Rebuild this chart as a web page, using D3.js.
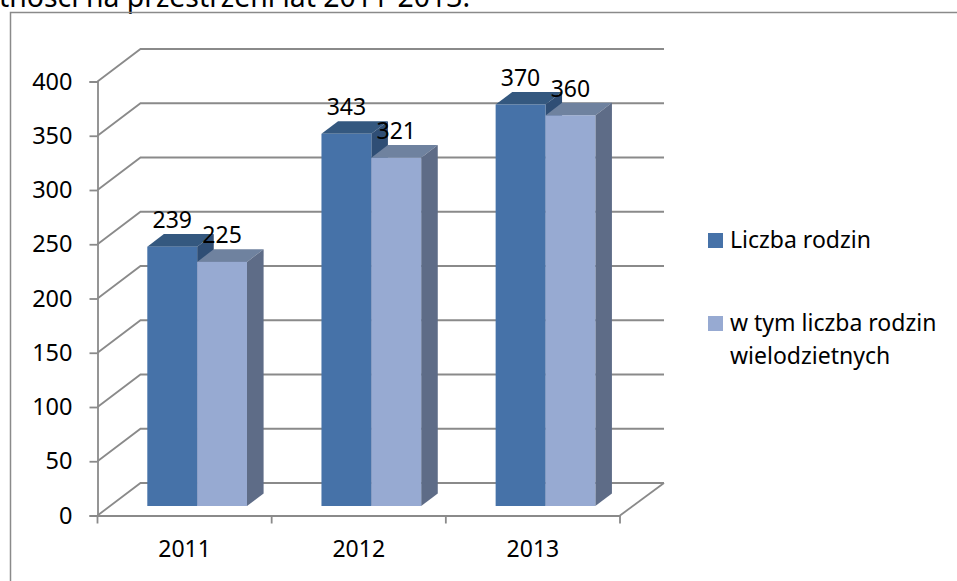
<!DOCTYPE html>
<html>
<head>
  <meta charset="utf-8">
  <script src="https://d3js.org/d3.v7.min.js"></script>
  <title>Liczba rodzin 2011-2013</title>
  <style>
    html, body { margin: 0; padding: 0; background: #fff; overflow: hidden; }
    text { font-family: "Noto Sans", sans-serif; fill: #000; }
  </style>
</head>
<body>
  <svg id="chart" width="957" height="581"></svg>
  <script>
    var years = ["2011", "2012", "2013"];
    var rodziny = [239, 343, 370];
    var wielodzietne = [225, 321, 360];
    var yTicks = [0, 50, 100, 150, 200, 250, 300, 350, 400];
    var legendFirst = "Liczba rodzin";
    var legendSecond = ["w tym liczba rodzin", "wielodzietnych"];
    var captionText = "tności na przestrzeni lat 2011-2013.";

    var frontColors = ["#4672a8", "#97aad2"];
    var topColors = ["#34587f", "#6f829f"];
    var sideColors = ["#2f4e75", "#5e6c87"];
    var axisColor = "#8a8a8a";

    var svg = d3.select("#chart");

    // front edge of the 3d floor
    var x0 = 97.5, x1 = 620;
    var y = d3.scaleLinear().domain([0, 400]).range([515.5, 81.5]);
    var x = d3.scaleBand().domain(years).range([x0, x1]);
    var inner = d3.scaleBand().domain([0, 1]).range([49.8, 149.5]);

    // depth offsets of the back wall and of the bars
    var wallDx = 43, wallDy = -32.5;
    var barDy = -9.5;
    var sideDx = 16.6, sideDy = -12.6;

    svg.append("text")
      .attr("x", -1).attr("y", 6.5)
      .style("font-size", "28.4px")
      .text(captionText);

    // chart frame, bottom and right run off the picture
    svg.append("path")
      .attr("d", "M10.5,600V12.5H960")
      .attr("fill", "none")
      .attr("stroke", axisColor)
      .attr("stroke-width", 1.5);

    var walls = svg.append("g")
      .attr("fill", "none")
      .attr("stroke", axisColor)
      .attr("stroke-width", 1.8);

    walls.selectAll(".grid")
      .data(yTicks)
      .enter()
      .append("path")
      .attr("class", "grid")
      .attr("d", function(d) {
        return d3.line()([
          [x0, y(d)],
          [x0 + wallDx, y(d) + wallDy],
          [x1 + wallDx + 1, y(d) + wallDy]
        ]);
      });

    // right edge of the floor
    walls.append("line")
      .attr("x1", x1).attr("y1", y(0))
      .attr("x2", x1 + wallDx + 1).attr("y2", y(0) + wallDy);

    // axes
    var gy = svg.append("g")
      .attr("transform", "translate(" + x0 + ",0)")
      .call(d3.axisLeft(y).tickValues(yTicks).tickSize(8).tickPadding(17));
    var gx = svg.append("g")
      .attr("transform", "translate(0," + y(0) + ")")
      .call(d3.axisBottom(x).tickSize(0).tickPadding(25));

    gx.selectAll(".xtick")
      .data(d3.range(years.length + 1))
      .enter()
      .append("line")
      .attr("class", "xtick")
      .attr("x1", function(d) { return x0 + d * x.step(); })
      .attr("x2", function(d) { return x0 + d * x.step(); })
      .attr("y1", 0).attr("y2", 8);

    svg.selectAll(".domain, .tick line, .xtick")
      .attr("stroke", axisColor)
      .attr("stroke-width", 1.8);
    gy.selectAll(".tick text")
      .style("font-size", "23.5px")
      .attr("fill", "#000");
    gx.selectAll(".tick text")
      .style("font-size", "23px")
      .attr("fill", "#000");

    // bars, second series after the first so it covers the side face
    var bars = svg.append("g");
    var labels = svg.append("g").style("font-size", "23px").attr("text-anchor", "middle");

    years.forEach(function(yr, i) {
      [rodziny[i], wielodzietne[i]].forEach(function(v, s) {
        var left = x(yr) + inner(s);
        var right = left + inner.bandwidth();
        var yTop = y(v) + barDy;
        var yBase = y(0) + barDy;
        bars.append("polygon")
          .attr("points", [[left, yTop], [left + sideDx, yTop + sideDy], [right + sideDx, yTop + sideDy], [right, yTop]].join(" "))
          .attr("fill", topColors[s]);
        bars.append("polygon")
          .attr("points", [[right, yTop], [right + sideDx, yTop + sideDy], [right + sideDx, yBase + sideDy], [right, yBase]].join(" "))
          .attr("fill", sideColors[s]);
        bars.append("rect")
          .attr("x", left).attr("y", yTop)
          .attr("width", right - left).attr("height", yBase - yTop)
          .attr("fill", frontColors[s]);
        labels.append("text")
          .attr("x", (left + right) / 2)
          .attr("y", yTop - 18.5)
          .text(v);
      });
    });

    // legend
    var legend = svg.append("g").style("font-size", "23px");
    legend.append("rect")
      .attr("x", 708).attr("y", 233).attr("width", 15).attr("height", 15)
      .attr("fill", frontColors[0]);
    legend.append("text").attr("x", 730).attr("y", 248).text(legendFirst);
    legend.append("rect")
      .attr("x", 708).attr("y", 316).attr("width", 15).attr("height", 15)
      .attr("fill", frontColors[1]);
    legend.selectAll(".second")
      .data(legendSecond)
      .enter()
      .append("text")
      .attr("class", "second")
      .attr("x", 730)
      .attr("y", function(d, i) { return 331 + i * 33; })
      .text(function(d) { return d; });
  </script>
</body>
</html>
